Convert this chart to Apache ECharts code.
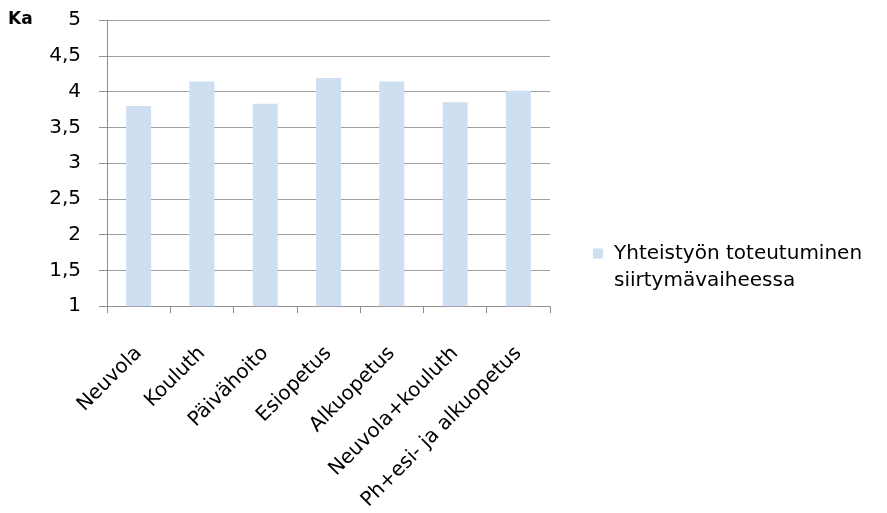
<!DOCTYPE html>
<html>
<head>
<meta charset="utf-8">
<script src="https://cdn.jsdelivr.net/npm/echarts@6/dist/echarts.min.js"></script>
<style>
  html, body { margin: 0; padding: 0; background: #fff; }
  #chart { width: 887px; height: 513px; }
</style>
</head>
<body>
<div id="chart"></div>
<script>
// Average ratings per party in the transition phase
const categories = ['Neuvola', 'Kouluth', 'Päivähoito', 'Esiopetus', 'Alkuopetus', 'Neuvola+kouluth', 'Ph+esi- ja alkuopetus'];
const values = [3.8, 4.14, 3.83, 4.19, 4.14, 3.85, 4.01];
const seriesName = 'Yhteistyön toteutuminen\nsiirtymävaiheessa';
const yTickLabels = ['1', '1,5', '2', '2,5', '3', '3,5', '4', '4,5', '5'];

const font = "'DejaVu Sans', 'Liberation Sans', sans-serif";
const chart = echarts.init(document.getElementById('chart'), null, { renderer: 'canvas' });

chart.setOption({
  animation: false,
  backgroundColor: '#ffffff',
  title: {
    text: 'Ka',
    left: 3,
    top: 6,
    textStyle: { fontFamily: font, fontWeight: 'bold', fontSize: 17, color: '#000' }
  },
  legend: {
    data: [seriesName],
    left: 588,
    top: 208,
    itemWidth: 10,
    itemHeight: 10,
    icon: 'rect',
    // leading empty line keeps the marker level with the first text line
    formatter: function (name) { return '\n' + name; },
    textStyle: { fontFamily: font, fontSize: 20, color: '#000', lineHeight: 27, padding: [0, 0, 0, 6] }
  },
  grid: { left: 107, right: 337, top: 20, bottom: 206, containLabel: false },
  xAxis: {
    type: 'category',
    data: categories,
    boundaryGap: true,
    axisLine: { show: true, lineStyle: { color: '#909090', width: 1 } },
    axisTick: { show: true, length: 7, inside: false, lineStyle: { color: '#909090' } },
    axisLabel: {
      rotate: 45,
      interval: 0,
      margin: 44,
      fontFamily: font,
      fontSize: 20,
      color: '#000'
    },
    splitLine: { show: false }
  },
  yAxis: {
    type: 'value',
    min: 1,
    max: 5,
    interval: 0.5,
    axisLine: { show: true, lineStyle: { color: '#909090', width: 1 } },
    axisTick: { show: true, length: 8, inside: false, lineStyle: { color: '#909090' } },
    axisLabel: {
      margin: 26,
      fontFamily: font,
      fontSize: 20,
      color: '#000',
      formatter: function (v) {
        return yTickLabels[Math.round((v - 1) / 0.5)];
      }
    },
    splitLine: { show: true, lineStyle: { color: '#a0a0a0', width: 1 } }
  },
  series: [{
    name: seriesName,
    type: 'bar',
    data: values,
    barWidth: 25,
    itemStyle: { color: '#cddff0' }
  }]
});
</script>
</body>
</html>
